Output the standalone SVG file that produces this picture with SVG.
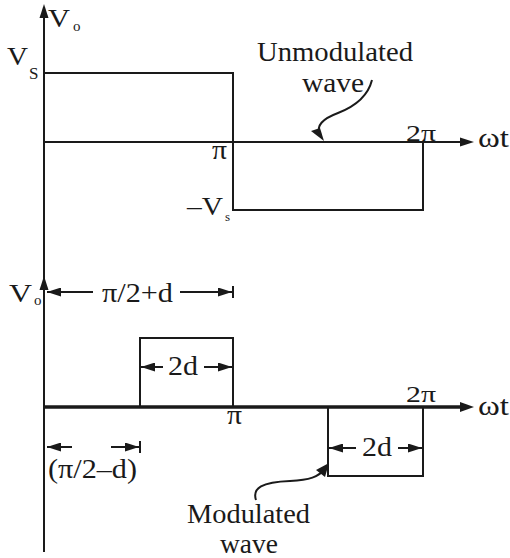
<svg xmlns="http://www.w3.org/2000/svg" width="510" height="558" viewBox="0 0 510 558">
<style>
.ln{stroke:#1a1a1a;stroke-width:2;fill:none}
.thick{stroke:#1a1a1a;stroke-width:3.5;fill:none}
.hd{fill:#1a1a1a}
text{font-family:"Liberation Serif","Times New Roman",serif;fill:#1a1a1a}
.lb{font-size:28px}
.md{font-size:23px}
.pi{font-size:28px}
.vv{font-size:25px}
.sb{font-size:15px}
</style>
<defs>
<marker id="ah" viewBox="0 0 14 9" refX="14" refY="4.5" markerWidth="14" markerHeight="9" orient="auto-start-reverse" markerUnits="userSpaceOnUse"><path d="M0,0 L14,4.5 L0,9 z" fill="#1a1a1a"/></marker>
</defs>
<rect width="510" height="558" fill="#ffffff"/>
<g id="axes">
<line class="ln" x1="44" y1="14" x2="44" y2="552"/>
<polygon class="hd" points="44,4 39.5,18 48.5,18"/>
<polygon class="hd" points="44,276 39.5,290 48.5,290"/>
<line class="ln" x1="44" y1="142" x2="463" y2="142"/>
<polygon class="hd" points="474,142 460,137.5 460,146.5"/>
<line class="thick" x1="44" y1="407" x2="463" y2="407"/>
<polygon class="hd" points="474,407 460,402 460,412"/>
</g>
<g id="unmodulated-wave">
<polyline class="ln" points="44,73 233,73 233,210 423,210 423,142"/>
</g>
<g id="modulated-wave">
<polyline class="ln" points="140,407 140,338 233,338 233,407"/>
<polyline class="ln" points="328,407 328,476 423,476 423,407"/>
</g>
<g id="connectors">
<path class="ln" d="M372,80 C368,96 356,106 338,113 C322,119 316,126 320,134"/>
<polygon class="hd" points="324,141 311,131 320,128"/>
<path class="ln" d="M256,500 C252,488 262,482 290,481 C310,480 318,477 325,469"/>
<polygon class="hd" points="329,463 325,477 316,470"/>
<line class="ln" x1="47" y1="292" x2="93" y2="292" marker-start="url(#ah)"/>
<line class="ln" x1="180" y1="292" x2="232" y2="292" marker-end="url(#ah)"/>
<line class="ln" x1="233" y1="286" x2="233" y2="298"/>
<line class="ln" x1="141" y1="367" x2="163" y2="367" marker-start="url(#ah)"/>
<line class="ln" x1="204" y1="367" x2="232" y2="367" marker-end="url(#ah)"/>
<line class="ln" x1="47" y1="447" x2="72" y2="447" marker-start="url(#ah)"/>
<line class="ln" x1="111" y1="447" x2="139" y2="447" marker-end="url(#ah)"/>
<line class="ln" x1="140" y1="441" x2="140" y2="453"/>
<line class="ln" x1="329" y1="448" x2="356" y2="448" marker-start="url(#ah)"/>
<line class="ln" x1="398" y1="448" x2="422" y2="448" marker-end="url(#ah)"/>
</g>
<g id="labels">
<text class="vv" x="48" y="27" textLength="22" lengthAdjust="spacingAndGlyphs">V</text>
<text class="sb" x="73" y="31">o</text>
<text class="vv" x="7" y="65" textLength="21" lengthAdjust="spacingAndGlyphs">V</text>
<text x="29" y="79" font-size="17">S</text>
<text class="pi" x="212" y="159" textLength="15" lengthAdjust="spacingAndGlyphs">π</text>
<text class="vv" x="187" y="215" textLength="36" lengthAdjust="spacingAndGlyphs">–V</text>
<text x="225" y="221" font-size="13">s</text>
<text class="md" x="406" y="141" textLength="30" lengthAdjust="spacingAndGlyphs">2π</text>
<text class="lb" x="478" y="147" textLength="31" lengthAdjust="spacingAndGlyphs">ωt</text>
<text class="lb" x="257" y="61" textLength="156" lengthAdjust="spacingAndGlyphs">Unmodulated</text>
<text class="lb" x="302" y="92" textLength="62" lengthAdjust="spacingAndGlyphs">wave</text>
<text class="vv" x="9" y="302" textLength="23" lengthAdjust="spacingAndGlyphs">V</text>
<text class="sb" x="34" y="305">o</text>
<text class="lb" x="102" y="302" textLength="71" lengthAdjust="spacingAndGlyphs">π/2+d</text>
<text class="lb" x="168" y="375" textLength="30" lengthAdjust="spacingAndGlyphs">2d</text>
<text class="pi" x="227" y="424" textLength="15" lengthAdjust="spacingAndGlyphs">π</text>
<text class="md" x="406" y="402" textLength="30" lengthAdjust="spacingAndGlyphs">2π</text>
<text class="lb" x="478" y="415" textLength="31" lengthAdjust="spacingAndGlyphs">ωt</text>
<text class="lb" x="48" y="478" textLength="89" lengthAdjust="spacingAndGlyphs">(π/2–d)</text>
<text class="lb" x="362" y="456" textLength="30" lengthAdjust="spacingAndGlyphs">2d</text>
<text class="lb" x="187" y="523" textLength="123" lengthAdjust="spacingAndGlyphs">Modulated</text>
<text class="lb" x="220" y="553" textLength="58" lengthAdjust="spacingAndGlyphs">wave</text>
</g>
</svg>
